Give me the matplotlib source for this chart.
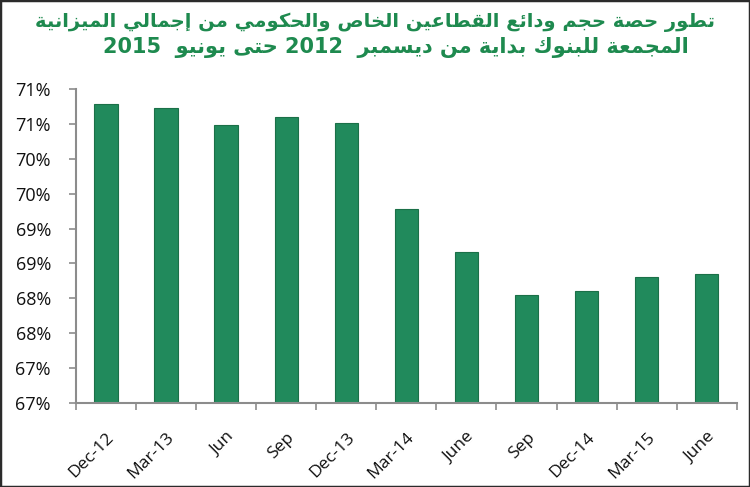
import re
import matplotlib
matplotlib.use('Agg')
import matplotlib.pyplot as plt
import numpy as np

# data (percent)
periods = ['Dec-12', 'Mar-13', 'Jun', 'Sep', 'Dec-13', 'Mar-14',
           'June', 'Sep', 'Dec-14', 'Mar-15', 'June']
share = [70.79, 70.73, 70.49, 70.60, 70.52, 69.28,
         68.66, 68.05, 68.10, 68.30, 68.35]
ytick_vals = [66.5, 67.0, 67.5, 68.0, 68.5, 69.0, 69.5, 70.0, 70.5, 71.0]
ytick_labels = ['67%', '67%', '68%', '68%', '69%', '69%', '70%', '70%', '71%', '71%']
title_lines = ['تطور حصة حجم ودائع القطاعين الخاص والحكومي من إجمالي الميزانية',
               'المجمعة للبنوك بداية من ديسمبر  2012 حتى يونيو  2015']

# matplotlib has no arabic shaping, so map letters to presentation forms
DUAL = {'ئ': 0xFE89, 'ب': 0xFE8F, 'ت': 0xFE95, 'ث': 0xFE99, 'ج': 0xFE9D,
        'ح': 0xFEA1, 'خ': 0xFEA5, 'س': 0xFEB1, 'ش': 0xFEB5, 'ص': 0xFEB9,
        'ض': 0xFEBD, 'ط': 0xFEC1, 'ظ': 0xFEC5, 'ع': 0xFEC9, 'غ': 0xFECD,
        'ف': 0xFED1, 'ق': 0xFED5, 'ك': 0xFED9, 'ل': 0xFEDD, 'م': 0xFEE1,
        'ن': 0xFEE5, 'ه': 0xFEE9, 'ي': 0xFEF1}
RIGHT = {'آ': 0xFE81, 'أ': 0xFE83, 'ؤ': 0xFE85, 'إ': 0xFE87, 'ا': 0xFE8D,
         'ة': 0xFE93, 'د': 0xFEA9, 'ذ': 0xFEAB, 'ر': 0xFEAD, 'ز': 0xFEAF,
         'و': 0xFEED, 'ى': 0xFEEF}
LAMALEF = {'آ': 0xFEF5, 'أ': 0xFEF7, 'إ': 0xFEF9, 'ا': 0xFEFB}


def shape(s):
    out = []
    i = 0
    n = len(s)
    while i < n:
        c = s[i]
        prev = i > 0 and s[i - 1] in DUAL
        if c == 'ل' and i + 1 < n and s[i + 1] in LAMALEF:
            out.append(chr(LAMALEF[s[i + 1]] + (1 if prev else 0)))
            i += 2
            continue
        if c in DUAL or c in RIGHT:
            nxt = c in DUAL and i + 1 < n and (s[i + 1] in DUAL or s[i + 1] in RIGHT)
            base = DUAL.get(c, RIGHT.get(c))
            if prev and nxt:
                code = base + 3
            elif nxt:
                code = base + 2
            elif prev:
                code = base + 1
            else:
                code = base
            out.append(chr(code))
        else:
            out.append(c)
        i += 1
    vis = ''.join(out)[::-1]
    return re.sub(r'\d+', lambda m: m.group(0)[::-1], vis)


plt.rcParams['font.family'] = ['Open Sans', 'DejaVu Sans']

fig = plt.figure(figsize=(7.5, 4.87), dpi=100)
ax = fig.add_axes([0.1013, 0.1731, 0.881, 0.6435])

x = np.arange(len(periods))
ax.bar(x, share, width=0.39, bottom=0, color='#218a5c', edgecolor='#1b7048', linewidth=0.8)

ax.set_ylim(66.5, 71.0)
ax.set_xlim(-0.5, len(periods) - 0.5)
ax.set_yticks(ytick_vals)
ax.set_yticklabels(ytick_labels, fontsize=13, color='#111111')
ax.set_xticks(np.arange(len(periods) + 1) - 0.5)
ax.set_xticklabels([])
ax.set_xticks(x, minor=True)
ax.set_xticklabels(periods, minor=True, rotation=45, ha='right', rotation_mode='anchor',
                   fontsize=12.5, color='#111111')
ax.tick_params(axis='x', which='minor', length=0, pad=19)
ax.tick_params(axis='both', which='major', length=5, width=1.2, color='#8c8c8c')
ax.tick_params(axis='y', pad=13)

for side in ['top', 'right']:
    ax.spines[side].set_visible(False)
for side in ['left', 'bottom']:
    ax.spines[side].set_color('#8c8c8c')
    ax.spines[side].set_linewidth(1.5)

fig.text(0.5, 1 - 22 / 487, shape(title_lines[0]), ha='center', va='center',
         fontsize=14, fontweight='bold', color='#1e8a4f', family=['DejaVu Sans'])
fig.text(396 / 750, 1 - 48 / 487, shape(title_lines[1]), ha='center', va='center',
         fontsize=15, fontweight='bold', color='#1e8a4f', family=['DejaVu Sans'])

fig.patches.append(plt.Rectangle((0, 0), 1, 1, transform=fig.transFigure, fill=False,
                                 edgecolor='#2b2b2b', linewidth=2.5))

fig.savefig('out.png', dpi=100)
